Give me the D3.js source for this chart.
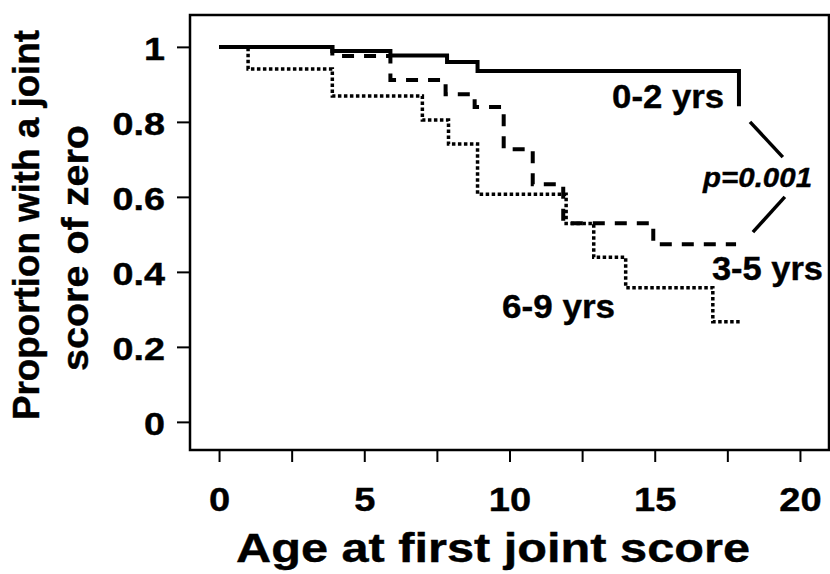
<!DOCTYPE html>
<html>
<head>
<meta charset="utf-8">
<script src="https://cdn.jsdelivr.net/npm/d3@7"></script>
<style>
  body { margin: 0; background: #fff; }
  svg { display: block; }
  text { font-family: "Liberation Sans", Arial, Helvetica, sans-serif; font-weight: bold; fill: #000; stroke: #000; stroke-width: 0.4; }
</style>
</head>
<body>
<div id="chart"></div>
<script>
// Kaplan-Meier style curves
var groups = ["0-2 yrs", "3-5 yrs", "6-9 yrs"];

var times02 = [0, 3.9, 5.9, 7.85, 8.9, 17.9];
var surv02  = [1, 0.989, 0.977, 0.96, 0.936, 0.842];

var times35 = [0, 3.9, 5.9, 7.8, 8.8, 9.8, 10.8, 11.85, 14.95, 17.8];
var surv35  = [1, 0.976, 0.912, 0.874, 0.84, 0.727, 0.634, 0.53, 0.474, 0.474];

var times69 = [0, 1.0, 3.9, 7.0, 7.9, 8.9, 11.95, 12.9, 14.0, 17.0, 17.95];
var surv69  = [1, 0.941, 0.869, 0.805, 0.741, 0.607, 0.529, 0.439, 0.358, 0.267, 0.267];

var xTicks = [0, 2.5, 5, 7.5, 10, 12.5, 15, 17.5, 20];
var yTicks = [0, 0.2, 0.4, 0.6, 0.8, 1];
var pLabel = "p=0.001";

(function(d3) {
  'use strict';
  var width = 830, height = 574;
  var left = 190, right = 829, top = 15, bottom = 450;

  var x = d3.scaleLinear().domain([-1, 21]).range([left, right]);
  var y = d3.scaleLinear().domain([-0.075, 1.085]).range([bottom, top]);

  var svg = d3.select('#chart').append('svg')
    .attr('width', width)
    .attr('height', height);

  // frame
  svg.append('rect')
    .attr('x', left).attr('y', top)
    .attr('width', right - left).attr('height', bottom - top)
    .attr('fill', 'none').attr('stroke', '#000').attr('stroke-width', 2.5);

  // axes
  var yAxis = svg.append('g')
    .attr('transform', 'translate(' + left + ',0)')
    .call(d3.axisLeft(y).tickValues(yTicks).tickSize(13).tickFormat(d3.format('~g')));
  var xAxis = svg.append('g')
    .attr('transform', 'translate(0,' + bottom + ')')
    .call(d3.axisBottom(x).tickValues(xTicks).tickSize(12)
      .tickFormat(function(d) { return d % 5 === 0 ? d : ''; }));

  [yAxis, xAxis].forEach(function(ax) {
    ax.select('.domain').remove();
    ax.selectAll('.tick line').attr('stroke', '#000').attr('stroke-width', 2);
  });

  yAxis.selectAll('.tick text')
    .attr('x', null).attr('dy', null)
    .attr('font-size', 32)
    .attr('text-anchor', 'end')
    .attr('transform', 'translate(-25,13) scale(1.18,1)');

  xAxis.selectAll('.tick text')
    .attr('y', null).attr('dy', null)
    .attr('font-size', 34)
    .attr('text-anchor', 'middle')
    .attr('transform', 'translate(0,61) scale(1.12,1)');

  // axis titles
  svg.append('text')
    .attr('x', 493).attr('y', 562)
    .attr('font-size', 40)
    .attr('text-anchor', 'middle')
    .attr('textLength', 514).attr('lengthAdjust', 'spacingAndGlyphs')
    .text('Age at first joint score');

  svg.append('text')
    .attr('transform', 'translate(39,225) rotate(-90)')
    .attr('font-size', 36)
    .attr('text-anchor', 'middle')
    .attr('textLength', 390).attr('lengthAdjust', 'spacingAndGlyphs')
    .text('Proportion with a joint');
  svg.append('text')
    .attr('transform', 'translate(88,248) rotate(-90)')
    .attr('font-size', 36)
    .attr('text-anchor', 'middle')
    .attr('textLength', 246).attr('lengthAdjust', 'spacingAndGlyphs')
    .text('score of zero');

  // curves
  var series = [
    { t: times02, s: surv02, dash: null, w: 4 },
    { t: times35, s: surv35, dash: '12,10', w: 4 },
    { t: times69, s: surv69, dash: '3.5,2.5', w: 3.5 }
  ];
  var line = d3.line()
    .x(function(d) { return x(d[0]); })
    .y(function(d) { return y(d[1]); })
    .curve(d3.curveStepAfter);

  svg.selectAll('.km')
    .data(series)
    .enter()
    .append('path')
    .attr('class', 'km')
    .attr('d', function(d) { return line(d3.zip(d.t, d.s)); })
    .attr('fill', 'none')
    .attr('stroke', '#000')
    .attr('stroke-width', function(d) { return d.w; })
    .attr('stroke-dasharray', function(d) { return d.dash; });

  // curve labels
  var labelPos = [[15.46, 0.837, 112], [18.88, 0.378, 111], [11.69, 0.277, 113]];
  svg.selectAll('.lab')
    .data(groups)
    .enter()
    .append('text')
    .attr('class', 'lab')
    .attr('x', function(d, i) { return x(labelPos[i][0]); })
    .attr('y', function(d, i) { return y(labelPos[i][1]); })
    .attr('font-size', 34)
    .attr('text-anchor', 'middle')
    .attr('textLength', function(d, i) { return labelPos[i][2]; })
    .attr('lengthAdjust', 'spacingAndGlyphs')
    .text(function(d) { return d; });

  // p-value bracket
  svg.append('text')
    .attr('x', x(18.54)).attr('y', y(0.626))
    .attr('font-size', 28)
    .attr('font-style', 'italic')
    .attr('text-anchor', 'middle')
    .attr('textLength', 109).attr('lengthAdjust', 'spacingAndGlyphs')
    .text(pLabel);

  [[[18.28, 0.8], [19.41, 0.706]], [[19.48, 0.6], [18.38, 0.506]]].forEach(function(seg) {
    svg.append('line')
      .attr('x1', x(seg[0][0])).attr('y1', y(seg[0][1]))
      .attr('x2', x(seg[1][0])).attr('y2', y(seg[1][1]))
      .attr('stroke', '#000').attr('stroke-width', 3.5);
  });
})(window.d3);
</script>
</body>
</html>
